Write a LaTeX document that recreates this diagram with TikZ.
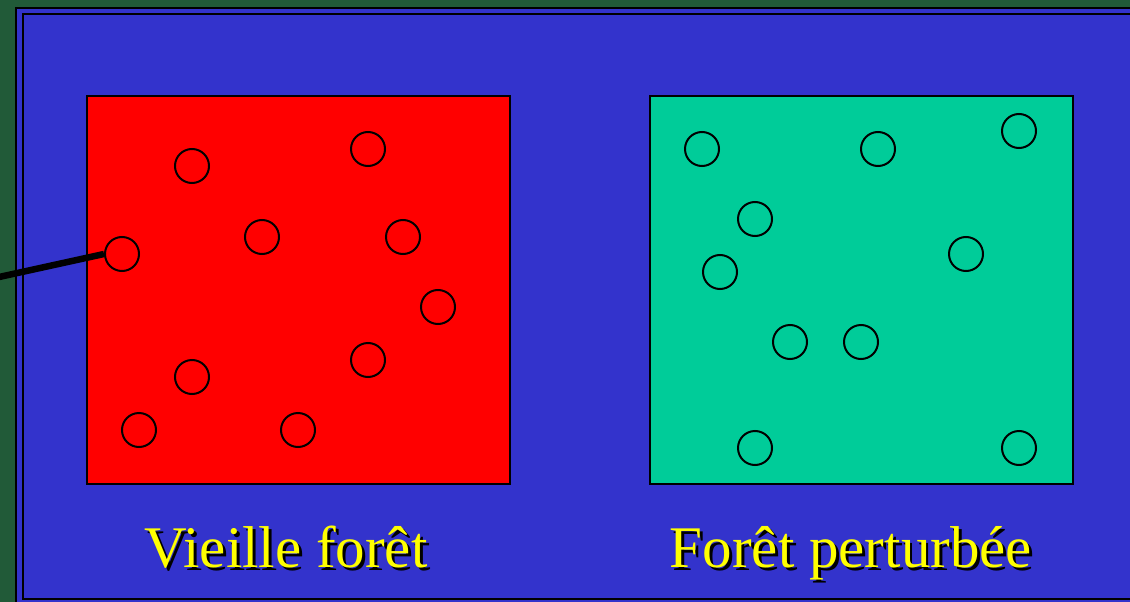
\documentclass[tikz,border=0pt]{standalone}
\usepackage{fontspec}
\setmainfont{Liberation Serif}
\usetikzlibrary{positioning}
\definecolor{bggreen}{HTML}{215A38}
\definecolor{slideblue}{HTML}{3333CC}
\definecolor{oldred}{HTML}{FF0000}
\definecolor{newgreen}{HTML}{00CC99}
\definecolor{labyellow}{HTML}{FFFF00}
% yellow text over a black drop shadow
\newcommand{\shadowed}[1]{%
  \rlap{\hspace{3pt}\raisebox{-3pt}{\textcolor{black}{#1}}}\textcolor{labyellow}{#1}}
\tikzset{
  frame/.style={draw=black, line width=2.6pt},
  plot/.style={draw=black, line width=2pt},
  tree/.style={circle, draw=black, line width=2pt, minimum size=34pt,
    inner sep=0pt},
  pointer/.style={draw=black, line width=6.5pt},
  lab/.style={font=\fontsize{59}{62}\selectfont, inner sep=0pt, anchor=base},
}
\begin{document}
\begin{tikzpicture}[x=1pt,y=-1pt]
  \clip (0,0) rectangle (1130,602);
  \fill[bggreen] (0,0) rectangle (1130,602);
  % slide frame, running off the right and bottom edges
  \draw[frame, fill=slideblue] (16,8) rectangle (1145,615);
  \draw[frame] (23,14) rectangle (1140,599);
  % the two plots
  \draw[plot, fill=oldred] (87,96) rectangle (510,484);
  \draw[plot, fill=newgreen] (650,96) rectangle (1073,484);
  % trees in the old forest
  \foreach \n/\x/\y in {1/192/166, 2/368/149, 3/262/237, 4/403/237, 5/122/254,
      6/438/307, 7/368/360, 8/192/377, 9/139/430, 10/298/430}
    \node[tree] (old\n) at (\x,\y) {};
  % trees in the disturbed forest
  \foreach \n/\x/\y in {1/702/149, 2/878/149, 3/1019/131, 4/755/219, 5/720/272,
      6/966/254, 7/790/342, 8/861/342, 9/755/448, 10/1019/448}
    \node[tree] (new\n) at (\x,\y) {};
  % pointer from off the slide
  \coordinate (ptrstart) at (-10,279);
  \draw[pointer] (ptrstart) -- (old5.west);
  % labels
  \node[lab] (oldlab) at (286,567) {\shadowed{Vieille forêt}};
  \node[lab] (newlab) at (851,567) {\shadowed{Forêt perturbée}};
\end{tikzpicture}
\end{document}
